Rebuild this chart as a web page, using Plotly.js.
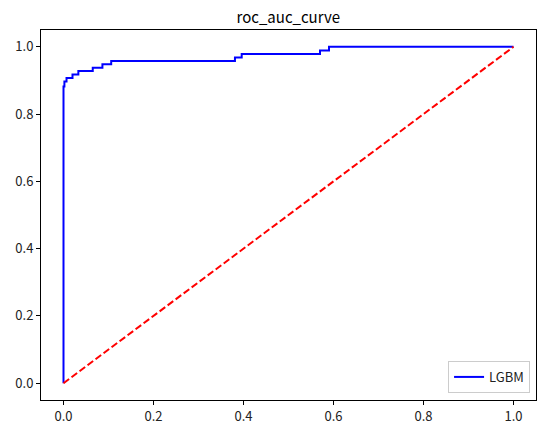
<!DOCTYPE html>
<html>
<head>
<meta charset="utf-8">
<script src="https://cdn.plot.ly/plotly-3.0.1.min.js"></script>
<style>html,body{margin:0;padding:0;background:#fff;}#chart{width:546px;height:433px;}</style>
</head>
<body>
<div id="chart"></div>
<script>
// ROC curve vertices (false positive rate, true positive rate)
const fpr = [0, 0, 0.002, 0.002, 0.0067, 0.0067, 0.02, 0.02, 0.033, 0.033, 0.065, 0.065, 0.0865, 0.0865, 0.106, 0.106, 0.381, 0.381, 0.396, 0.396, 0.570, 0.570, 0.590, 0.590, 1.0];
const tpr = [0, 0.882, 0.882, 0.897, 0.897, 0.907, 0.907, 0.918, 0.918, 0.928, 0.928, 0.938, 0.938, 0.948, 0.948, 0.958, 0.958, 0.968, 0.968, 0.979, 0.979, 0.989, 0.989, 1.0, 1.0];
// chance diagonal
const diagX = [0, 1];
const diagY = [0, 1];
const seriesName = "LGBM";
const chartTitle = "roc_auc_curve";
const tickVals = [0, 0.2, 0.4, 0.6, 0.8, 1.0];
const tickText = ["0.0", "0.2", "0.4", "0.6", "0.8", "1.0"];

const font = "'Noto Sans CJK KR', 'Noto Sans', sans-serif";

const traces = [
  {x: fpr, y: tpr, mode: "lines", name: seriesName, line: {color: "#0000ff", width: 2}},
  {x: diagX, y: diagY, mode: "lines", showlegend: false, line: {color: "#ff0000", width: 2, dash: "7px,3px"}}
];

const axisCommon = {
  showgrid: false, zeroline: false, showline: true, mirror: true,
  linecolor: "#000", linewidth: 1, ticks: "outside", ticklen: 4, tickwidth: 1,
  tickcolor: "#000", tickvals: tickVals, ticktext: tickText,
  tickfont: {family: font, size: 13, color: "#222"}
};

const layout = {
  width: 546, height: 433,
  margin: {l: 41, r: 10, t: 30, b: 33},
  paper_bgcolor: "#fff", plot_bgcolor: "#fff",
  title: {text: chartTitle, x: 0.528, xanchor: "center", y: 0.96, yanchor: "middle", font: {family: font, size: 15, color: "#000"}},
  xaxis: Object.assign({range: [-0.05, 1.05]}, axisCommon),
  yaxis: Object.assign({range: [-0.05, 1.05]}, axisCommon),
  showlegend: true,
  legend: {x: 0.988, y: 0.019, xanchor: "right", yanchor: "bottom", bgcolor: "rgba(255,255,255,0.8)",
           bordercolor: "#cccccc", borderwidth: 1, font: {family: font, size: 13, color: "#222"}}
};

Plotly.newPlot("chart", traces, layout, {displayModeBar: false, staticPlot: true});
</script>
</body>
</html>
